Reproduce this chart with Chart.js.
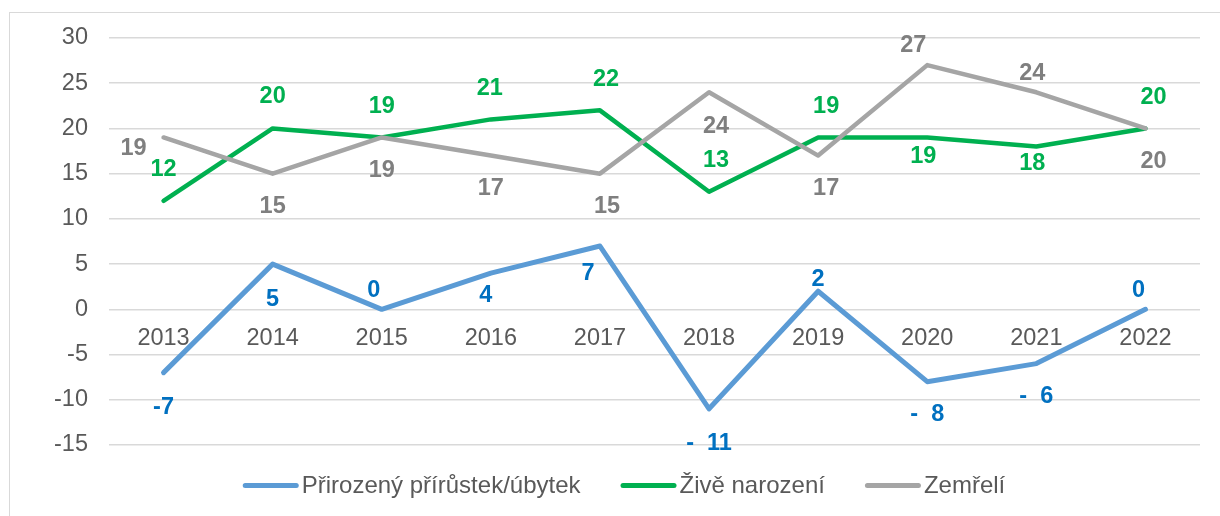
<!DOCTYPE html>
<html>
<head>
<meta charset="utf-8">
<script src="https://cdn.jsdelivr.net/npm/chart.js@4/dist/chart.umd.min.js"></script>
<style>
html,body{margin:0;padding:0;background:#fff;overflow:hidden;width:1220px;height:516px;}
#frame{position:absolute;left:9px;top:12px;width:1400px;height:700px;border:1.5px solid #d9d9d9;box-sizing:border-box;}
#wrap{position:absolute;left:0;top:0;width:1220px;height:516px;}
</style>
</head>
<body>
<div id="frame"></div>
<div id="wrap"><canvas id="c" width="1220" height="516"></canvas></div>
<script>
// ---- data ----
const years = ['2013','2014','2015','2016','2017','2018','2019','2020','2021','2022'];
const naturalChange = [-7, 5, 0, 4, 7, -11, 2, -8, -6, 0];
const liveBirths   = [12, 20, 19, 21, 22, 13, 19, 19, 18, 20];
const deaths       = [19, 15, 19, 17, 15, 24, 17, 27, 24, 20];
const seriesNames  = ['Přirozený přírůstek/úbytek', 'Živě narození', 'Zemřelí'];
const yMin = -15, yMax = 30, yStep = 5;

// ---- styling ----
const FONT = '"Liberation Sans", Arial, sans-serif';
const TICK_COLOR = '#595959';

const blueOffsets  = [[0,35],[0,35],[-8,-19],[-5,22],[-12,27],[0,35],[0,-12],[0,33],[0,33],[-7,-19]];
const greenOffsets = [[0,-31],[0,-32],[0,-31],[-1,-31],[6,-31],[7,-31],[8,-31],[-4,19],[-4,17],[8,-31]];
const grayOffsets  = [[-30,11],[0,33],[0,33],[0,33],[7,33],[7,34],[8,33],[-14,-20],[-4,-19],[8,33]];
const blueSpaced   = [false,false,false,false,false,true,false,true,true,false];
const noSpaced     = new Array(10).fill(false);

const valueLabels = {
  id: 'valueLabels',
  afterDatasetsDraw(chart) {
    const ctx = chart.ctx;
    chart.data.datasets.forEach((ds, di) => {
      const meta = chart.getDatasetMeta(di);
      ctx.save();
      ctx.font = 'bold 23.5px ' + FONT;
      ctx.fillStyle = ds.labelColor;
      ctx.textAlign = 'center';
      ctx.textBaseline = 'middle';
      meta.data.forEach((pt, i) => {
        const v = ds.data[i];
        const off = ds.labelOffsets[i];
        const txt = v < 0 && ds.labelSpaced[i] ? '-  ' + Math.abs(v) : String(v);
        ctx.fillText(txt, pt.x + off[0], pt.y + off[1]);
      });
      ctx.restore();
    });
  }
};

const lineLegend = {
  id: 'lineLegend',
  afterDraw(chart) {
    const ctx = chart.ctx;
    ctx.save();
    ctx.font = '24px ' + FONT;
    const lineW = 56, gap = 3, itemGap = 40, y = 485.5;
    const items = chart.data.datasets.map(ds => ({
      text: ds.label, color: ds.borderColor, w: lineW + gap + ctx.measureText(ds.label).width
    }));
    const total = items.reduce((s, it) => s + it.w, 0) + itemGap * (items.length - 1);
    let x = 624 - total / 2;
    items.forEach(it => {
      ctx.strokeStyle = it.color;
      ctx.lineWidth = 5;
      ctx.lineCap = 'round';
      ctx.beginPath();
      ctx.moveTo(x + 2.5, y);
      ctx.lineTo(x + lineW - 2.5, y);
      ctx.stroke();
      ctx.fillStyle = TICK_COLOR;
      ctx.textAlign = 'left';
      ctx.textBaseline = 'middle';
      ctx.fillText(it.text, x + lineW + gap, y + 1);
      x += it.w + itemGap;
    });
    ctx.restore();
  }
};

new Chart(document.getElementById('c'), {
  type: 'line',
  data: {
    labels: years,
    datasets: [
      { label: seriesNames[0], data: naturalChange, borderColor: '#5B9BD5', borderWidth: 5,
        labelColor: '#0070C0', labelOffsets: blueOffsets, labelSpaced: blueSpaced, order: 2 },
      { label: seriesNames[1], data: liveBirths, borderColor: '#00B050', borderWidth: 4.5,
        labelColor: '#00B050', labelOffsets: greenOffsets, labelSpaced: noSpaced, order: 1 },
      { label: seriesNames[2], data: deaths, borderColor: '#A5A5A5', borderWidth: 4.5,
        labelColor: '#7F7F7F', labelOffsets: grayOffsets, labelSpaced: noSpaced, order: 0 }
    ]
  },
  options: {
    responsive: false,
    animation: false,
    devicePixelRatio: 1,
    layout: { padding: { top: 38, right: 20, bottom: 71, left: 0 } },
    elements: {
      point: { radius: 0, hoverRadius: 0 },
      line: { tension: 0, fill: false, borderCapStyle: 'round', borderJoinStyle: 'round' }
    },
    plugins: { legend: { display: false }, tooltip: { enabled: false } },
    scales: {
      x: {
        type: 'category',
        position: { y: 0 },
        offset: true,
        grid: { display: false, drawTicks: false },
        border: { display: false },
        ticks: { font: { family: FONT, size: 23.5 }, color: TICK_COLOR, padding: 15, maxRotation: 0, autoSkip: false }
      },
      y: {
        min: yMin, max: yMax,
        ticks: { stepSize: yStep, font: { family: FONT, size: 23.5 }, color: TICK_COLOR, padding: 21 },
        grid: { color: '#D9D9D9', lineWidth: 1.5, drawTicks: false },
        border: { display: false },
        afterFit(scale) { scale.width = 109; }
      }
    }
  },
  plugins: [valueLabels, lineLegend]
});
</script>
</body>
</html>
